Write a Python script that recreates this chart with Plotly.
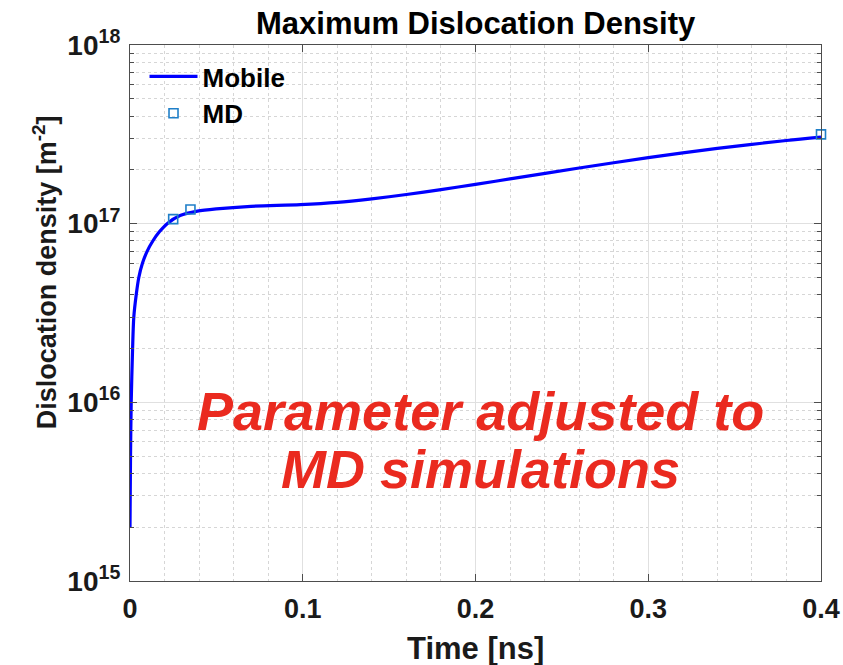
import plotly.graph_objects as go

# Model curve: maximum mobile dislocation density vs. time
time_ns = [0, 0.0003, 0.0007, 0.0015, 0.0022, 0.0036, 0.0051, 0.0072, 0.0099, 0.0132,
           0.017, 0.0215, 0.029, 0.039, 0.05, 0.07, 0.0986, 0.12, 0.14, 0.16, 0.18,
           0.2, 0.22, 0.26, 0.30, 0.34, 0.38, 0.4]
rho_mobile = [2e15, 5e15, 1e16, 2e16, 3e16, 4e16, 5e16, 6e16, 7e16, 8e16,
              9e16, 1e17, 1.11e17, 1.175e17, 1.21e17, 1.25e17, 1.277e17, 1.315e17, 1.377e17, 1.456e17, 1.55e17,
              1.66e17, 1.78e17, 2.05e17, 2.34e17, 2.64e17, 2.92e17, 3.05e17]

# Molecular dynamics reference points
md_time_ns = [0.025, 0.035, 0.4]
md_rho = [1.06e17, 1.2e17, 3.16e17]

y_major = [1e15, 1e16, 1e17, 1e18]
y_major_text = ["10<sup>15</sup>", "10<sup>16</sup>", "10<sup>17</sup>", "10<sup>18</sup>"]
y_minor = [k * 10 ** n for n in (15, 16, 17) for k in range(2, 10)]
x_major = [0, 0.1, 0.2, 0.3, 0.4]
x_major_text = ["0", "0.1", "0.2", "0.3", "0.4"]
x_minor = [0.02, 0.04, 0.06, 0.08, 0.12, 0.14, 0.16, 0.18, 0.22, 0.24, 0.26, 0.28,
           0.32, 0.34, 0.36, 0.38]

FONT = "Liberation Sans"
AX = "#4d4d4d"
TXT = "#1a1a1a"

fig = go.Figure()
fig.add_trace(go.Scatter(
    x=time_ns, y=rho_mobile, mode="lines", name="Mobile",
    line=dict(color="#0000ff", width=3.2, shape="spline", smoothing=0.8),
))
fig.add_trace(go.Scatter(
    x=md_time_ns, y=md_rho, mode="markers", name="MD",
    marker=dict(symbol="square-open", size=9, color="#1f7fc8", line=dict(width=1.6)),
    cliponaxis=False,
))

fig.update_layout(
    width=843, height=665,
    margin=dict(l=129.5, r=22, t=44.6, b=84.3, autoexpand=False),
    paper_bgcolor="white", plot_bgcolor="white",
    font=dict(family=FONT, color=TXT),
    showlegend=True,
    legend=dict(
        x=0.021, y=0.985, xanchor="left", yanchor="top",
        bgcolor="rgba(0,0,0,0)", borderwidth=0,
        font=dict(family=FONT, size=26, color="#000", weight="bold"),
        itemwidth=48, tracegroupgap=0,
    ),
    xaxis=dict(
        range=[0, 0.4], tickvals=x_major, ticktext=x_major_text, automargin=False,
        showline=True, linecolor=AX, linewidth=1.2, mirror="ticks",
        ticks="inside", ticklen=7, tickcolor=AX, ticklabelstandoff=3,
        showgrid=True, gridcolor="#e0e0e0", gridwidth=1,
        tickfont=dict(family=FONT, size=27, color=TXT, weight="bold"),
        zeroline=False,
        minor=dict(tickvals=x_minor, showgrid=True, gridcolor="#d6d6d6",
                   griddash="dot", gridwidth=1, ticks=""),
    ),
    yaxis=dict(
        type="log", range=[15, 18], tickvals=y_major, ticktext=y_major_text,
        automargin=False,
        showline=True, linecolor=AX, linewidth=1.2, mirror="ticks",
        ticks="inside", ticklen=7, tickcolor=AX, ticklabelstandoff=3,
        showgrid=True, gridcolor="#e0e0e0", gridwidth=1,
        tickfont=dict(family=FONT, size=28, color=TXT, weight="bold"),
        zeroline=False,
        minor=dict(tickvals=y_minor, showgrid=True, gridcolor="#d6d6d6",
                   griddash="dot", gridwidth=1, ticks="inside", ticklen=4,
                   tickcolor=AX),
    ),
)

# Title and axis labels
fig.add_annotation(
    text="Maximum Dislocation Density", xref="paper", yref="paper",
    x=0.5, y=1.0, yshift=22, yanchor="middle", showarrow=False,
    font=dict(family=FONT, size=31, color="#000", weight="bold"),
)
fig.add_annotation(
    text="Time [ns]", xref="paper", yref="paper",
    x=0.5, y=0, yshift=-67, yanchor="middle", showarrow=False,
    font=dict(family=FONT, size=31, color=TXT, weight="bold"),
)
fig.add_annotation(
    text="Dislocation density [m<sup>-2</sup>]", xref="paper", yref="paper",
    x=0, xshift=-85, y=0.576, textangle=-90, xanchor="center", yanchor="middle",
    showarrow=False,
    font=dict(family=FONT, size=27, color=TXT, weight="bold"),
)

# Remark on the calibration
for line_text, y_pos in (("Parameter adjusted to", 0.3178), ("MD simulations", 0.2096)):
    fig.add_annotation(
        text=line_text, xref="paper", yref="paper",
        x=0.507, y=y_pos, xanchor="center", yanchor="middle", showarrow=False,
        font=dict(family=FONT, size=54, color="#ea2a1f", weight="bold", style="italic"),
    )

fig.write_html("out.html")
